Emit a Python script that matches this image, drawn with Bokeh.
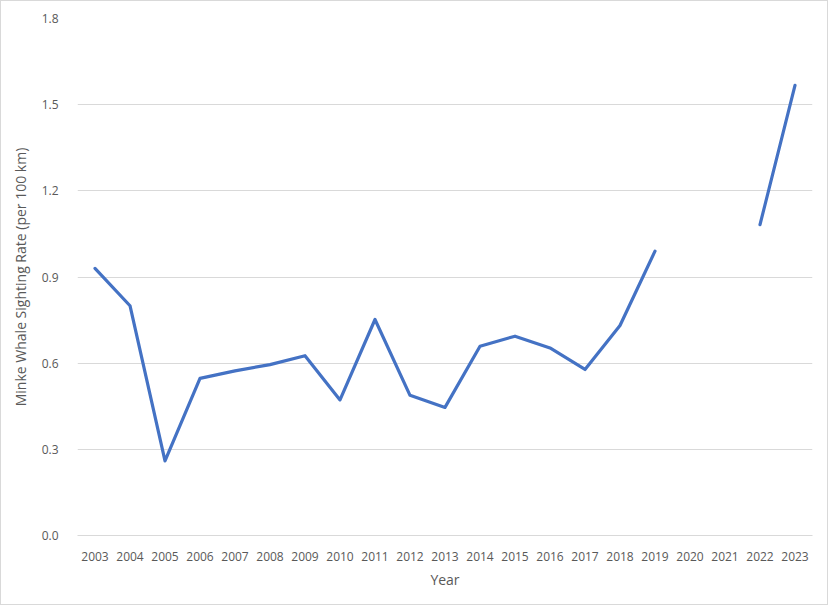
import numpy as np
from bokeh.plotting import figure
from bokeh.models import ColumnDataSource, FixedTicker, NumeralTickFormatter, Range1d
from bokeh.embed import file_html
from bokeh.resources import INLINE

years = [str(y) for y in range(2003, 2024)]
rates = [0.93, 0.80, 0.26, 0.547, 0.573, 0.595, 0.626, 0.472, 0.752, 0.488,
         0.446, 0.659, 0.694, 0.653, 0.578, 0.731, 0.99, np.nan, np.nan, 1.082, 1.567]
y_ticks = [0.0, 0.3, 0.6, 0.9, 1.2, 1.5, 1.8]

FONT = "Open Sans"
TXT = "#595959"
GRID = "#D9D9D9"

src = ColumnDataSource(dict(year=years, rate=rates))

p = figure(x_range=years, y_range=Range1d(0, 1.8), width=828, height=605,
           output_backend="svg", toolbar_location=None,
           min_border_left=76, min_border_right=17, min_border_top=17, min_border_bottom=71)
p.styles = {"border": "1px solid #D9D9D9"}
p.outline_line_color = None
p.background_fill_color = "white"
p.border_fill_color = "white"

p.line("year", "rate", source=src, line_color="#4472C4", line_width=3.2,
       line_join="round", line_cap="round")

p.xgrid.grid_line_color = None
p.ygrid.grid_line_color = GRID
p.ygrid.grid_line_width = 1

p.yaxis.ticker = FixedTicker(ticks=y_ticks)
p.yaxis.formatter = NumeralTickFormatter(format="0.0")
p.yaxis.axis_line_color = None
p.yaxis.major_tick_line_color = None
p.yaxis.minor_tick_line_color = None
p.yaxis.major_label_standoff = 13
p.yaxis.axis_label = "Minke Whale Sighting Rate (per 100 km)"
p.yaxis.axis_label_standoff = 9

p.xaxis.axis_line_color = GRID
p.xaxis.major_tick_line_color = None
p.xaxis.minor_tick_line_color = None
p.xaxis.major_label_standoff = 10
p.xaxis.axis_label = "Year"
p.xaxis.axis_label_standoff = 6

for ax in (p.xaxis, p.yaxis):
    ax.major_label_text_font = FONT
    ax.major_label_text_font_size = "12px"
    ax.major_label_text_color = TXT
    ax.axis_label_text_font = FONT
    ax.axis_label_text_font_size = "14px"
    ax.axis_label_text_font_style = "normal"
    ax.axis_label_text_color = TXT

open("out.html", "w").write(file_html(p, INLINE))
